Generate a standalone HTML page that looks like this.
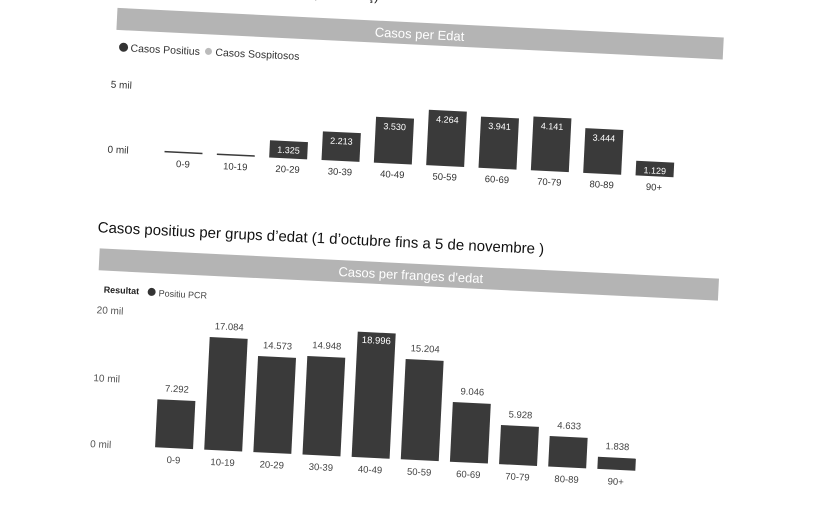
<!DOCTYPE html>
<html><head><meta charset="utf-8">
<style>
html,body{margin:0;padding:0;background:#fff;}
body{width:815px;height:503px;overflow:hidden;font-family:"Liberation Sans",sans-serif;}
svg text{font-family:"Liberation Sans",sans-serif;}
</style></head>
<body>
<svg id="chart" width="815" height="503" viewBox="0 0 815 503">
<g id="rot" transform="rotate(2.8 400 250)">
  <text x="300" y="2" font-size="13" fill="#222">(1 de març)</text>
  <rect x="106" y="22" width="607" height="22" fill="#b4b4b4"/>
  <text x="409" y="38" font-size="13" fill="#fff" text-anchor="middle">Casos per Edat</text>
  <circle cx="114" cy="61" r="4.5" fill="#333"/>
  <text x="121" y="65" font-size="10.5" fill="#333">Casos Positius</text>
  <circle cx="199" cy="61" r="3.5" fill="#bbb"/>
  <text x="206" y="65" font-size="10.5" fill="#333">Casos Sospitosos</text>
  <text x="103" y="102" font-size="10" fill="#333">5 mil</text>
  <text x="103" y="167" font-size="10" fill="#333">0 mil</text>
  <g id="topBars"></g>

  <text x="97" y="247" font-size="15" fill="#111">Casos positius per grups d’edat (1 d’octubre fins a 5 de novembre )</text>
  <rect x="100" y="263" width="620" height="22" fill="#b4b4b4"/>
  <text x="412" y="279" font-size="13" fill="#fff" text-anchor="middle">Casos per franges d'edat</text>
  <text x="106" y="307" font-size="9" font-weight="bold" fill="#222">Resultat</text>
  <circle cx="154" cy="304" r="4" fill="#333"/>
  <text x="161" y="308" font-size="9" fill="#444">Positiu PCR</text>
  <text x="100" y="328" font-size="10" fill="#555">20 mil</text>
  <text x="100" y="396" font-size="10" fill="#555">10 mil</text>
  <text x="100" y="462" font-size="10" fill="#555">0 mil</text>
  <g id="botBars"></g>
</g>
</svg>
<script>
const categories = ["0-9","10-19","20-29","30-39","40-49","50-59","60-69","70-79","80-89","90+"];
const topValues = [20,20,1325,2213,3530,4264,3941,4141,3444,1129];
const topLabels = ["","","1.325","2.213","3.530","4.264","3.941","4.141","3.444","1.129"];
const bottomValues = [7292,17084,14573,14948,18996,15204,9046,5928,4633,1838];
const bottomLabels = ["7.292","17.084","14.573","14.948","18.996","15.204","9.046","5.928","4.633","1.838"];
const NS="http://www.w3.org/2000/svg";
function mk(t,a){const e=document.createElementNS(NS,t);for(const k in a)e.setAttribute(k,a[k]);return e;}
const tx=i=>179+52.4*i, ty=v=>164-v*(65/5000);
const tg=document.getElementById('topBars');
categories.forEach((c,i)=>{
  const v=topValues[i], w=38, y=ty(v), h=Math.max(1.5,164-y);
  const r=mk('rect',{x:tx(i)-w/2,y:164-h,width:w,height:h,fill:'#3a3a3a'});
  
  
  tg.appendChild(r);
  if(topLabels[i]){const t=mk('text',{x:tx(i),y:164-h+12,'font-size':9,fill:'#fff','text-anchor':'middle'});t.textContent=topLabels[i];
  
  
  tg.appendChild(t);}
  const l=mk('text',{x:tx(i),y:178,'font-size':9.5,fill:'#333','text-anchor':'middle'});l.textContent=c;
  
  
  tg.appendChild(l);
});
const bx=i=>184+49.2*i, by=v=>459-v*(66/10000);
const bg=document.getElementById('botBars');
categories.forEach((c,i)=>{
  const v=bottomValues[i], w=38, y=by(v);
  const r=mk('rect',{x:bx(i)-w/2,y:y,width:w,height:459-y,fill:'#3a3a3a'});
  
  
  bg.appendChild(r);
  const inside=v>18000;
  const t=mk('text',{x:bx(i),y:inside?y+11:y-8,'font-size':9.5,fill:inside?'#fff':'#444','text-anchor':'middle'});t.textContent=bottomLabels[i];
  
  
  bg.appendChild(t);
  const l=mk('text',{x:bx(i),y:474,'font-size':9.5,fill:'#444','text-anchor':'middle'});l.textContent=c;
  
  
  bg.appendChild(l);
});
</script>
</body></html>
